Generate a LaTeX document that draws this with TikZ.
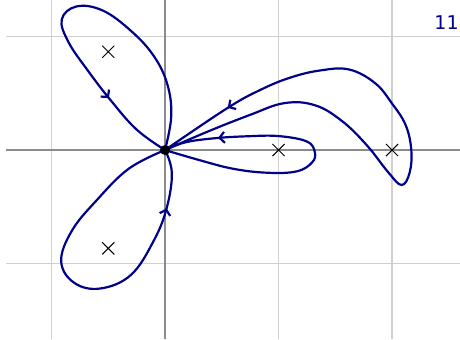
\documentclass[tikz,border=0pt]{standalone}
\usepackage{fontspec}
\newfontfamily\labelfont{DejaVu Sans}
\definecolor{PlotNavy}{HTML}{00008B}
\definecolor{PlotGrid}{HTML}{D0D0D0}
\definecolor{PlotAxis}{HTML}{8C8C8C}
\usetikzlibrary{arrows.meta, decorations.markings, shapes.misc}
\tikzset{
   pole/.style={cross out, draw=black, line width=0.5pt, minimum size=5.6pt, inner sep=0pt},
   contour/.style={PlotNavy, line width=1.1pt, line join=round},
   flow/.style={postaction={decorate}, decoration={markings,
      mark=at position #1 with {\arrow{Straight Barb[length=2.5pt,width=5.5pt]}}}}
}

\begin{document}
\begin{tikzpicture}[x=2cm, y=2cm]
            \useasboundingbox (-1.454,-1.665) rectangle (2.599,1.322);
            % Grid
            \foreach \gx in {-1,1,2}
               \draw[PlotGrid, line width=0.9pt] (\gx,-1.665) -- (\gx,1.322);
            \foreach \gy in {-1,1}
               \draw[PlotGrid, line width=0.9pt] (-1.40,\gy) -- (2.599,\gy);
            % Axes
            \draw[PlotAxis, line width=0.6pt] (-1.40,0) -- (2.599,0);
            \draw[PlotAxis, line width=0.6pt] (0,-1.665) -- (0,1.322);
            % Base point and poles
            \coordinate (O) at (0,0);
            \node[pole] (p1) at (1,0) {};
            \node[pole] (p2) at (2,0) {};
            \node[pole] (p3) at (-0.5,0.866) {};
            \node[pole] (p4) at (-0.5,-0.866) {};
            % Loop round p3
            \draw[contour, flow=0.80] plot[smooth, tension=0.65] coordinates {(O) (0.055,0.3)
               (0.02,0.58) (-0.1,0.83) (-0.3,1.05) (-0.55,1.23) (-0.78,1.265) (-0.91,1.15)
               (-0.85,0.95) (-0.68,0.70) (-0.48,0.44) (-0.25,0.18) (O)};
            % Loop round p4
            \draw[contour, flow=0.843] plot[smooth, tension=0.65] coordinates {(O) (-0.32,-0.165)
               (-0.6,-0.44) (-0.82,-0.71) (-0.915,-0.98) (-0.8,-1.17) (-0.57,-1.22) (-0.3,-1.1)
               (-0.1,-0.8) (0.015,-0.51) (0.06,-0.2) (O)};
            % Loop round p1
            \draw[contour, flow=0.83] plot[smooth, tension=0.65] coordinates {(O) (0.3,-0.088)
               (0.6,-0.165) (0.9,-0.2) (1.16,-0.188) (1.295,-0.11) (1.32,-0.02) (1.25,0.075)
               (1.0,0.123) (0.72,0.121) (0.44,0.104) (0.18,0.068) (O)};
            % Loop round p2
            \draw[contour, flow=0.88] plot[smooth, tension=0.65] coordinates {(O) (0.37,0.16)
               (0.75,0.31) (1.05,0.413) (1.32,0.395) (1.56,0.255) (1.78,0.04) (1.97,-0.2)
               (2.085,-0.308) (2.155,-0.2) (2.17,0.0) (2.12,0.22) (2.0,0.41) (1.85,0.59)
               (1.62,0.71) (1.36,0.70) (1.10,0.637) (0.84,0.53) (0.55,0.37) (O)};
            \fill (O) circle (2.5pt);
            % Label
            \node[anchor=base east, inner sep=0pt, text=PlotNavy,
               font=\labelfont\fontsize{9.5}{11}\selectfont] (num) at (2.59,1.066) {11};
         \end{tikzpicture}
\end{document}
